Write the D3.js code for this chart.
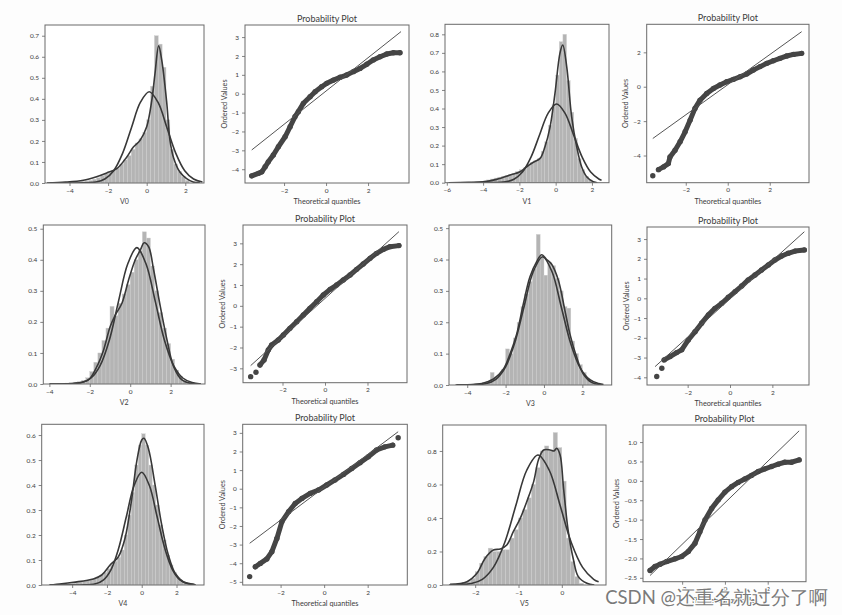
<!DOCTYPE html>
<html><head><meta charset="utf-8">
<script src="https://cdn.jsdelivr.net/npm/d3@7"></script>
<style>
body{margin:0;background:#fff;}
svg{display:block;}
text{font-family:Lato,"Open Sans",sans-serif;}
</style>
</head><body>
<svg id="c" width="842" height="615"></svg>
<script>
// ---------------- DATA ----------------
const variables = ["V0","V1","V2","V3","V4","V5"];
const qqTitle = "Probability Plot";
const qqXLabel = "Theoretical quantiles";
const qqYLabel = "Ordered Values";
const watermark = "CSDN @还重名就过分了啊";

// histogram bin starts / widths / densities
const v0BinStart = -4.4, v0BinWidth = 0.2;
const v0Hist = [0.002,0.002,0.004,0.004,0.006,0.008,0.010,0.012,0.018,0.025,
  0.035,0.045,0.050,0.060,0.070,0.090,0.110,0.130,0.160,0.190,0.210,0.240,
  0.300,0.460,0.700,0.660,0.550,0.300,0.160,0.090,0.055,0.030,0.012];
const v1BinStart = -5.6, v1BinWidth = 0.2;
const v1Hist = [0.002,0.002,0.002,0.002,0.002,0.004,0.006,0.008,0.010,0.015,0.020,0.025,0.030,
  0.035,0.040,0.045,0.050,0.060,0.070,0.080,0.090,0.110,0.120,
  0.130,0.170,0.220,0.310,0.420,0.580,0.760,0.800,0.550,0.380,
  0.240,0.130,0.070,0.035,0.015,0.005];
const v2BinStart = -4.0, v2BinWidth = 0.2;
const v2Hist = [0.001,0.001,0.002,0.002,0.003,0.004,0.006,0.008,0.012,
  0.020,0.040,0.070,0.100,0.140,0.180,
  0.250,0.220,0.260,0.290,0.320,
  0.360,0.400,0.430,0.490,0.470,
  0.380,0.300,0.230,0.180,0.130,0.080,0.045,0.025,0.012,0.006,0.003];
const v3BinStart = -4.6, v3BinWidth = 0.2;
const v3Hist = [0.001,0.001,0.002,0.002,0.003,0.004,0.005,0.008,
  0.012,0.040,0.025,0.035,0.050,
  0.115,0.100,0.150,0.200,0.250,
  0.290,0.330,0.370,0.480,0.410,
  0.350,0.390,0.380,0.340,0.300,
  0.250,0.245,0.140,0.100,0.065,0.040,0.022,0.010,0.005,0.002];
const v4BinStart = -5.0, v4BinWidth = 0.2;
const v4Hist = [0.002,0.003,0.004,0.005,0.006,0.008,0.010,0.012,0.015,0.018,
  0.020,0.025,0.030,0.040,0.050,
  0.065,0.080,0.095,0.110,0.140,
  0.200,0.280,0.370,0.480,0.560,
  0.605,0.560,0.480,0.400,0.320,
  0.240,0.180,0.120,0.080,0.050,0.030,0.015,0.008,0.004];
const v5BinStart = -2.6, v5BinWidth = 0.1;
const v5Hist = [0.004,0.006,0.010,0.015,0.020,0.040,
  0.080,0.130,0.170,0.220,0.200,
  0.200,0.210,0.210,0.280,0.330,
  0.400,0.450,0.520,0.600,0.700,
  0.800,0.830,0.800,0.910,0.820,
  0.620,0.280,0.140,0.050,0.010];

// KDE curves [x, density]
const v0Kde = [[-5.17,0],[-4.2,0.004],[-3.28,0.013],[-2.6,0.03],[-2.07,0.048],[-1.55,0.068],[-1.03,0.124],[-0.69,0.171],[-0.34,0.203],[0,0.267],[0.26,0.39],[0.43,0.52],[0.62,0.652],[0.78,0.584],[1.03,0.39],[1.21,0.20],[1.38,0.124],[1.72,0.052],[2.07,0.021],[2.41,0.005],[2.76,0]];
const v1Kde = [[-5.9,0],[-4.8,0.002],[-3.98,0.005],[-3.25,0.018],[-2.51,0.041],[-1.96,0.059],[-1.6,0.086],[-1.23,0.11],[-0.86,0.131],[-0.59,0.194],[-0.31,0.30],[-0.04,0.48],[0.24,0.70],[0.39,0.742],[0.61,0.625],[0.88,0.356],[1.16,0.194],[1.43,0.086],[1.71,0.032],[2.07,0.005],[2.3,0]];
const v2Kde = [[-3.97,0],[-2.64,0.003],[-2.07,0.013],[-1.65,0.056],[-1.32,0.109],[-0.99,0.185],[-0.74,0.222],[-0.41,0.26],[-0.08,0.335],[0.25,0.40],[0.50,0.431],[0.69,0.455],[0.91,0.442],[1.16,0.367],[1.49,0.249],[1.82,0.142],[2.15,0.056],[2.56,0.013],[3.06,0.001],[3.47,0]];
const v3Kde = [[-4.54,0.001],[-3.24,0.005],[-2.63,0.019],[-2.11,0.051],[-1.77,0.099],[-1.42,0.163],[-1.07,0.26],[-0.73,0.345],[-0.38,0.393],[-0.12,0.415],[0.14,0.40],[0.40,0.385],[0.75,0.334],[1.09,0.238],[1.35,0.163],[1.70,0.089],[2.05,0.035],[2.48,0.0085],[3.08,0.001]];
const v4Kde = [[-5.3,0],[-4.6,0.005],[-3.93,0.011],[-2.78,0.024],[-2.30,0.04],[-1.82,0.08],[-1.34,0.113],[-0.96,0.187],[-0.57,0.347],[-0.29,0.493],[0,0.58],[0.13,0.587],[0.38,0.547],[0.77,0.40],[1.15,0.24],[1.53,0.12],[1.92,0.047],[2.39,0.013],[2.97,0.003],[3.1,0]];
const v5Kde = [[-2.58,0.004],[-2.19,0.02],[-1.96,0.07],[-1.77,0.16],[-1.58,0.209],[-1.42,0.215],[-1.27,0.239],[-1.12,0.318],[-0.96,0.398],[-0.81,0.497],[-0.65,0.617],[-0.54,0.746],[-0.42,0.806],[-0.27,0.806],[-0.18,0.80],[-0.12,0.816],[-0.04,0.776],[0.04,0.577],[0.15,0.318],[0.27,0.149],[0.38,0.05],[0.58,0.01],[0.75,0]];

// fitted normal curves [x, density]
const v0Norm = [[-5.0,0],[-3.55,0.0002],[-2.63,0.0048],[-2.17,0.019],[-1.71,0.0587],[-1.25,0.141],[-0.79,0.263],[-0.33,0.383],[0.13,0.434],[0.59,0.383],[1.05,0.263],[1.51,0.141],[1.97,0.0587],[2.43,0.019],[2.89,0.0048]];
const v1Norm = [[-5.9,0],[-3.71,0.00014],[-2.77,0.0047],[-2.30,0.0186],[-1.83,0.0574],[-1.36,0.138],[-0.89,0.257],[-0.42,0.374],[0.05,0.424],[0.52,0.374],[0.99,0.257],[1.46,0.138],[1.93,0.0574],[2.40,0.0186],[2.53,0.013]];
const v2Norm = [[-4.0,0],[-3.31,0.0002],[-2.40,0.0049],[-1.94,0.0193],[-1.49,0.0594],[-1.03,0.142],[-0.58,0.266],[-0.12,0.387],[0.33,0.439],[0.78,0.387],[1.24,0.266],[1.69,0.142],[2.15,0.0594],[2.60,0.0193],[3.06,0.0049],[3.5,0.0001]];
const v3Norm = [[-4.6,0],[-3.97,0.00014],[-3.0,0.0045],[-2.51,0.018],[-2.02,0.0553],[-1.53,0.133],[-1.045,0.248],[-0.56,0.361],[-0.07,0.409],[0.42,0.361],[0.905,0.248],[1.39,0.133],[1.88,0.0553],[2.37,0.018],[2.855,0.0045],[3.1,0.0015]];
const v4Norm = [[-5.3,0],[-3.54,0.00015],[-2.655,0.005],[-2.21,0.0198],[-1.77,0.061],[-1.33,0.146],[-0.885,0.273],[-0.44,0.398],[0,0.451],[0.44,0.398],[0.885,0.273],[1.33,0.146],[1.77,0.061],[2.21,0.0198],[2.655,0.005],[3.0,0.0014]];
const v5Norm = [[-2.6,0.0003],[-2.09,0.0086],[-1.835,0.034],[-1.58,0.105],[-1.32,0.252],[-1.065,0.471],[-0.81,0.685],[-0.55,0.776],[-0.29,0.685],[-0.035,0.471],[0.22,0.252],[0.48,0.105],[0.735,0.034],[0.85,0.019]];

// probability plots: ordered points, isolated extreme points, fit line ends
const qqV0 = [[-3.54,-4.35],[-3.22,-4.22],[-3.06,-4.14],[-2.90,-3.87],[-2.75,-3.61],[-2.51,-3.25],[-2.27,-2.81],[-1.95,-2.28],[-1.71,-1.75],[-1.48,-1.22],[-1.32,-0.95],[-1.08,-0.51],[-0.76,-0.16],[-0.52,0.11],[-0.21,0.37],[0.03,0.55],[0.35,0.72],[0.67,0.87],[0.98,0.99],[1.30,1.17],[1.62,1.34],[1.94,1.56],[2.25,1.79],[2.57,1.96],[2.89,2.10],[3.21,2.17],[3.52,2.17]];
const qqV0Out = [];
const qqV0Line = [[-3.54,-2.98],[3.57,3.29]];
const qqV1 = [[-3.30,-4.82],[-3.06,-4.66],[-2.83,-4.47],[-2.75,-4.08],[-2.51,-3.69],[-2.27,-3.20],[-2.03,-2.62],[-1.79,-1.94],[-1.56,-1.26],[-1.32,-0.78],[-1.0,-0.39],[-0.68,-0.10],[-0.37,0.10],[-0.05,0.29],[0.27,0.43],[0.59,0.58],[0.90,0.74],[1.22,0.97],[1.54,1.17],[1.86,1.36],[2.17,1.51],[2.49,1.65],[2.81,1.79],[3.13,1.88],[3.52,1.94]];
const qqV1Out = [[-3.57,-5.18]];
const qqV1Line = [[-3.57,-3.01],[3.52,3.20]];
const qqV2 = [[-3.06,-2.84],[-2.87,-2.6],[-2.67,-2.12],[-2.51,-1.88],[-2.2,-1.64],[-1.96,-1.4],[-1.65,-1.08],[-1.33,-0.76],[-1.02,-0.44],[-0.71,-0.12],[-0.39,0.2],[-0.08,0.52],[0.24,0.79],[0.55,1.0],[0.86,1.24],[1.18,1.48],[1.49,1.75],[1.8,2.01],[2.12,2.28],[2.43,2.52],[2.75,2.71],[3.06,2.84],[3.48,2.89]];
const qqV2Out = [[-3.5,-3.4],[-3.25,-3.19]];
const qqV2Line = [[-3.5,-2.87],[3.48,3.56]];
const qqV3 = [[-3.11,-3.12],[-2.83,-2.95],[-2.52,-2.75],[-2.28,-2.61],[-1.97,-2.11],[-1.65,-1.69],[-1.34,-1.26],[-1.02,-0.84],[-0.71,-0.51],[-0.39,-0.25],[-0.08,0.05],[0.24,0.34],[0.55,0.62],[0.86,0.93],[1.18,1.18],[1.49,1.43],[1.81,1.69],[2.12,1.94],[2.44,2.14],[2.75,2.28],[3.07,2.39],[3.51,2.45]];
const qqV3Out = [[-3.46,-3.96],[-3.22,-3.54]];
const qqV3Line = [[-3.54,-3.46],[3.51,3.37]];
const qqV4 = [[-3.16,-4.19],[-2.93,-4.01],[-2.63,-3.77],[-2.40,-3.38],[-2.17,-2.67],[-1.94,-1.77],[-1.63,-1.23],[-1.33,-0.79],[-1.02,-0.52],[-0.64,-0.25],[-0.26,-0.07],[0.12,0.20],[0.50,0.47],[0.89,0.77],[1.27,1.09],[1.65,1.40],[2.03,1.72],[2.41,2.08],[2.79,2.25],[3.15,2.34]];
const qqV4Out = [[-3.42,-4.72],[3.40,2.74]];
const qqV4Line = [[-3.42,-2.93],[3.40,3.06]];
const qqV5 = [[-3.5,-2.31],[-3.27,-2.21],[-3.03,-2.15],[-2.72,-2.08],[-2.33,-2.01],[-2.02,-1.95],[-1.71,-1.82],[-1.40,-1.61],[-1.17,-1.31],[-0.93,-1.01],[-0.62,-0.71],[-0.31,-0.49],[0,-0.29],[0.31,-0.15],[0.62,-0.04],[0.93,0.05],[1.24,0.14],[1.56,0.24],[1.87,0.31],[2.18,0.37],[2.49,0.43],[2.80,0.48],[3.11,0.48],[3.47,0.54]];
const qqV5Out = [];
const qqV5Line = [[-3.5,-2.44],[3.47,1.29]];

// tick values
const histXTicks = [[-4,-2,0,2],[-6,-4,-2,0,2],[-4,-2,0,2],[-4,-2,0,2],[-4,-2,0,2],[-2,-1,0]];
const histYTicks = [[0,0.1,0.2,0.3,0.4,0.5,0.6,0.7],[0,0.1,0.2,0.3,0.4,0.5,0.6,0.7,0.8],[0,0.1,0.2,0.3,0.4,0.5],[0,0.1,0.2,0.3,0.4,0.5],[0,0.1,0.2,0.3,0.4,0.5,0.6],[0,0.2,0.4,0.6,0.8]];
const qqXTicks = [-2,0,2];
const qqYTicks = [[-4,-3,-2,-1,0,1,2,3],[-4,-2,0,2],[-3,-2,-1,0,1,2,3],[-4,-3,-2,-1,0,1,2,3],[-5,-4,-3,-2,-1,0,1,2,3],[-2.5,-2.0,-1.5,-1.0,-0.5,0.0,0.5,1.0]];

// ---------------- LAYOUT (positions only) ----------------
const histLayout = [
  {box:[45,25,204,183],   xd:[-5.27,2.97], yd:[0,0.751]},
  {box:[445,24.3,609,182.7], xd:[-6.1,2.94], yd:[0,0.854]},
  {box:[43.3,225,205,384], xd:[-4.3,3.7], yd:[0,0.512]},
  {box:[449,225,611.7,385], xd:[-4.95,3.53], yd:[0,0.51]},
  {box:[41.7,424.3,204,585], xd:[-5.75,3.58], yd:[0,0.643]},
  {box:[442.7,425,606,585], xd:[-2.75,1.02], yd:[0,0.955]}
];
const qqLayout = [
  {box:[245,25,409,183],   xd:[-3.86,3.95], yd:[-4.73,3.64], yl:20},
  {box:[646.7,24.3,809,182.7], xd:[-3.86,3.87], yd:[-5.58,3.63], yl:21},
  {box:[243,225,407,382.7], xd:[-3.86,3.86], yd:[-3.69,3.88], yl:20},
  {box:[647,227,809,385],  xd:[-3.92,3.73], yd:[-4.39,3.61], yl:20},
  {box:[242.7,424.3,407.3,585], xd:[-3.74,3.82], yd:[-5.17,3.46], yl:20},
  {box:[643,425,806,581.7], xd:[-3.83,3.79], yd:[-2.6,1.44], yl:26}
];

const hists = [
  [v0BinStart,v0BinWidth,v0Hist,v0Kde,v0Norm],
  [v1BinStart,v1BinWidth,v1Hist,v1Kde,v1Norm],
  [v2BinStart,v2BinWidth,v2Hist,v2Kde,v2Norm],
  [v3BinStart,v3BinWidth,v3Hist,v3Kde,v3Norm],
  [v4BinStart,v4BinWidth,v4Hist,v4Kde,v4Norm],
  [v5BinStart,v5BinWidth,v5Hist,v5Kde,v5Norm]
];
const qqs = [
  [qqV0,qqV0Out,qqV0Line],[qqV1,qqV1Out,qqV1Line],[qqV2,qqV2Out,qqV2Line],
  [qqV3,qqV3Out,qqV3Line],[qqV4,qqV4Out,qqV4Line],[qqV5,qqV5Out,qqV5Line]
];

// ---------------- DRAW ----------------
const svg = d3.select("#c");
svg.append("rect").attr("width",842).attr("height",615).attr("fill","#fdfdfd");
const TXT = "#3c3c3c", AX = "#666";
let clipId = 0;

function styleAxis(g, fs){
  g.select(".domain").remove();
  g.selectAll(".tick line").attr("stroke", AX).attr("stroke-width", 0.8);
  g.selectAll(".tick text").attr("fill", TXT).attr("font-size", fs).attr("font-family","Lato,sans-serif");
}

function makeClip(box){
  const id = "clip" + (clipId++);
  svg.append("clipPath").attr("id", id).append("rect")
    .attr("x", box[0]).attr("y", box[1]).attr("width", box[2]-box[0]).attr("height", box[3]-box[1]);
  return id;
}

function frame(box){
  svg.append("rect").attr("x", box[0]).attr("y", box[1])
    .attr("width", box[2]-box[0]).attr("height", box[3]-box[1])
    .attr("fill","none").attr("stroke","#6a6a6a").attr("stroke-width",1);
}

function histPanel(i){
  const L = histLayout[i], b = L.box;
  const [bs, bw, hs, kde, nrm] = hists[i];
  const x = d3.scaleLinear().domain(L.xd).range([b[0], b[2]]);
  const y = d3.scaleLinear().domain(L.yd).range([b[3], b[1]]);
  const cid = makeClip(b);
  const g = svg.append("g").attr("clip-path", `url(#${cid})`);
  g.append("rect").attr("x",b[0]).attr("y",b[1]).attr("width",b[2]-b[0]).attr("height",b[3]-b[1]).attr("fill","#fff");
  g.selectAll("rect.bar").data(hs.map((h,k)=>({x0: bs + k*bw, h}))).join("rect")
    .attr("class","bar")
    .attr("x", d => x(d.x0)).attr("width", d => Math.max(0, x(d.x0+bw) - x(d.x0)))
    .attr("y", d => y(d.h)).attr("height", d => y(0) - y(d.h))
    .attr("fill","#b4b4b4").attr("stroke","#cfcfcf").attr("stroke-width",0.4);
  const line = d3.line().x(d => x(d[0])).y(d => y(d[1])).curve(d3.curveCatmullRom.alpha(0.5));
  g.append("path").attr("d", line(nrm)).attr("fill","none").attr("stroke","#383838").attr("stroke-width",1.6);
  g.append("path").attr("d", line(kde)).attr("fill","none").attr("stroke","#383838").attr("stroke-width",1.6);
  frame(b);
  const gx = svg.append("g").attr("transform",`translate(0,${b[3]})`)
    .call(d3.axisBottom(x).tickValues(histXTicks[i]).tickSize(3).tickPadding(2).tickFormat(d3.format("d")));
  styleAxis(gx, 6.5);
  const gy = svg.append("g").attr("transform",`translate(${b[0]},0)`)
    .call(d3.axisLeft(y).tickValues(histYTicks[i]).tickSize(3).tickPadding(3).tickFormat(d3.format(".1f")));
  styleAxis(gy, 6.5);
  svg.append("text").attr("x",(b[0]+b[2])/2).attr("y", b[3]+21).attr("text-anchor","middle")
    .attr("font-size",7).attr("fill",TXT).text(variables[i]);
}

function qqPanel(i){
  const L = qqLayout[i], b = L.box;
  const [pts, outs, ln] = qqs[i];
  const x = d3.scaleLinear().domain(L.xd).range([b[0], b[2]]);
  const y = d3.scaleLinear().domain(L.yd).range([b[3], b[1]]);
  const cid = makeClip(b);
  const g = svg.append("g").attr("clip-path", `url(#${cid})`);
  g.append("rect").attr("x",b[0]).attr("y",b[1]).attr("width",b[2]-b[0]).attr("height",b[3]-b[1]).attr("fill","#fff");
  const line = d3.line().x(d => x(d[0])).y(d => y(d[1]));
  g.append("path").attr("d", line(pts)).attr("fill","none").attr("stroke","#454545")
    .attr("stroke-width",5).attr("stroke-linejoin","round").attr("stroke-linecap","round");
  g.selectAll("circle").data(pts.concat(outs)).join("circle")
    .attr("cx", d => x(d[0])).attr("cy", d => y(d[1])).attr("r", 2.7).attr("fill","#454545");
  g.append("path").attr("d", line(ln)).attr("fill","none").attr("stroke","#555").attr("stroke-width",1);
  frame(b);
  const yFmt = i === 5 ? d3.format(".1f") : d3.format("d");
  const gx = svg.append("g").attr("transform",`translate(0,${b[3]})`)
    .call(d3.axisBottom(x).tickValues(qqXTicks).tickSize(3).tickPadding(2).tickFormat(d3.format("d")));
  styleAxis(gx, 6.5);
  const gy = svg.append("g").attr("transform",`translate(${b[0]},0)`)
    .call(d3.axisLeft(y).tickValues(qqYTicks[i]).tickSize(3).tickPadding(3).tickFormat(yFmt));
  styleAxis(gy, 6.5);
  svg.append("text").attr("x",(b[0]+b[2])/2).attr("y", b[1]-3.5).attr("text-anchor","middle")
    .attr("font-size",9).attr("fill",TXT).text(qqTitle);
  svg.append("text").attr("x",(b[0]+b[2])/2).attr("y", b[3]+21).attr("text-anchor","middle")
    .attr("font-size",7.3).attr("fill",TXT).text(qqXLabel);
  svg.append("text").attr("transform",`translate(${b[0]-L.yl},${(b[1]+b[3])/2}) rotate(-90)`)
    .attr("text-anchor","middle").attr("dominant-baseline","middle")
    .attr("font-size",7.3).attr("fill",TXT).text(qqYLabel);
}

for (let i = 0; i < 6; i++){ histPanel(i); qqPanel(i); }

svg.append("text").attr("x",828).attr("y",604).attr("text-anchor","end")
  .attr("font-family",'"Noto Sans CJK SC",sans-serif').attr("font-size",18.5)
  .attr("fill","#7a7a7a").attr("stroke","#ffffff").attr("stroke-width",2)
  .attr("paint-order","stroke").text(watermark);
</script>
</body></html>
